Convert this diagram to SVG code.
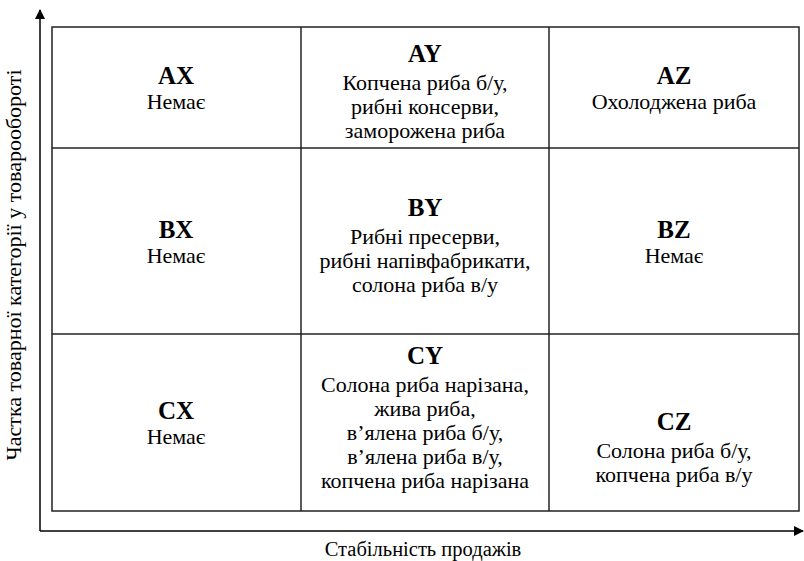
<svg xmlns="http://www.w3.org/2000/svg" width="804" height="561" viewBox="0 0 804 561">
<style>
.t{font-family:"Liberation Serif","Times New Roman",serif;font-size:22px;fill:#000;text-anchor:middle}
.h{font-family:"Liberation Serif","Times New Roman",serif;font-size:25px;font-weight:bold;fill:#000;text-anchor:middle}
.g{fill:none;stroke:#222;stroke-width:1.5}
.ax{stroke:#000;stroke-width:1.5;fill:none}
</style>
<defs>
<marker id="arr" markerWidth="10" markerHeight="10" refX="9" refY="5" orient="auto" markerUnits="userSpaceOnUse">
<path d="M0,0 L10,5 L0,10 Z" fill="#000"/>
</marker>
</defs>
<rect width="804" height="561" fill="#fff"/>
<g id="connectors">
<path class="ax" d="M40,531 V10" marker-end="url(#arr)"/>
<path class="ax" d="M40,531 H803" marker-end="url(#arr)"/>
</g>
<g id="grid">
<rect class="g" x="52" y="27" width="747" height="484"/>
<line class="g" x1="301" y1="27" x2="301" y2="511"/>
<line class="g" x1="549" y1="27" x2="549" y2="511"/>
<line class="g" x1="52" y1="148" x2="799" y2="148"/>
<line class="g" x1="52" y1="334" x2="799" y2="334"/>
</g>
<g id="AX"><text class="h" x="176" y="84">AX</text><text class="t" x="176" y="109">Немає</text></g>
<g id="AY"><text class="h" x="425" y="62">AY</text><text class="t" x="425" y="90">Копчена риба б/у,</text><text class="t" x="425" y="114">рибні консерви,</text><text class="t" x="425" y="138">заморожена риба</text></g>
<g id="AZ"><text class="h" x="674" y="84">AZ</text><text class="t" x="674" y="109">Охолоджена риба</text></g>
<g id="BX"><text class="h" x="176" y="238">BX</text><text class="t" x="176" y="263">Немає</text></g>
<g id="BY"><text class="h" x="425" y="216">BY</text><text class="t" x="425" y="244">Рибні пресерви,</text><text class="t" x="425" y="268">рибні напівфабрикати,</text><text class="t" x="425" y="292">солона риба в/у</text></g>
<g id="BZ"><text class="h" x="674" y="238">BZ</text><text class="t" x="674" y="263">Немає</text></g>
<g id="CX"><text class="h" x="176" y="419">CX</text><text class="t" x="176" y="444">Немає</text></g>
<g id="CY"><text class="h" x="425" y="364">CY</text><text class="t" x="425" y="392">Солона риба нарізана,</text><text class="t" x="425" y="416">жива риба,</text><text class="t" x="425" y="440">в’ялена риба б/у,</text><text class="t" x="425" y="464">в’ялена риба в/у,</text><text class="t" x="425" y="488">копчена риба нарізана</text></g>
<g id="CZ"><text class="h" x="674" y="430">CZ</text><text class="t" x="674" y="458">Солона риба б/у,</text><text class="t" x="674" y="482">копчена риба в/у</text></g>
<g id="labels">
<text class="t" x="423" y="556" style="font-size:20.5px">Стабільність продажів</text>
<text class="t" transform="translate(21,265) rotate(-90)">Частка товарної категорії у товарообороті</text>
</g>
</svg>
